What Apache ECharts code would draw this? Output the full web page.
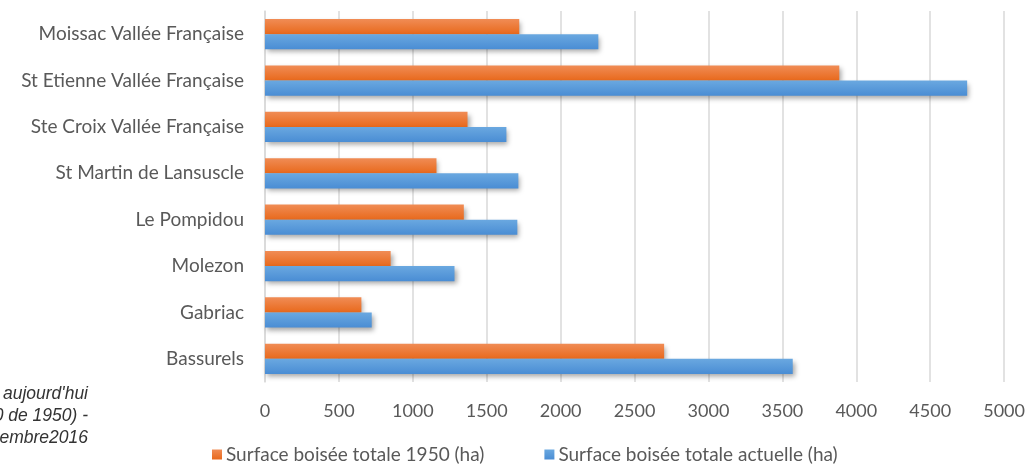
<!DOCTYPE html>
<html>
<head>
<meta charset="utf-8">
<script src="https://cdn.jsdelivr.net/npm/echarts@6/dist/echarts.min.js"></script>
<style>
html,body{margin:0;padding:0;background:#fff;}
#chart{width:1028px;height:465px;}
</style>
</head>
<body>
<div id="chart"></div>
<script>
const categories = ["Moissac Vallée Française","St Etienne Vallée Française","Ste Croix Vallée Française","St Martin de Lansuscle","Le Pompidou","Molezon","Gabriac","Bassurels"];
const surface1950 = [1720, 3885, 1370, 1160, 1345, 850, 652, 2700];
const surfaceActuelle = [2255, 4750, 1633, 1714, 1707, 1282, 722, 3570];
const seriesNames = ["Surface boisée totale 1950 (ha)", "Surface boisée totale actuelle (ha)"];
const sideNote = ["aujourd'hui", "0 de 1950) -", "embre2016"];

const FONT = "Lato, 'Open Sans', sans-serif";
const chart = echarts.init(document.getElementById('chart'), null, {renderer:'canvas'});
const grad = (a,b)=>new echarts.graphic.LinearGradient(0,0,0,1,[{offset:0,color:a},{offset:1,color:b}]);
chart.setOption({
  animation:false,
  backgroundColor:'#ffffff',
  grid:{left:265,right:22,top:11,bottom:83,containLabel:false},
  legend:{
    left:212, top:445, padding:[0,0,0,0], icon:'rect', itemWidth:10, itemHeight:10, itemGap:60,
    textStyle:{fontFamily:FONT,fontSize:19,color:'#595959',padding:[0,0,0,-1]},
    data:seriesNames
  },
  xAxis:{
    type:'value', min:0, max:5000, interval:500,
    axisLine:{show:false}, axisTick:{show:false},
    splitLine:{lineStyle:{color:'#d9d9d9',width:1.5}},
    axisLabel:{fontFamily:FONT,fontSize:18,color:'#595959',margin:20,formatter:v=>String(v)}
  },
  yAxis:{
    type:'category', data:categories, inverse:true,
    axisLine:{show:true,lineStyle:{color:'#d9d9d9',width:1.5}},
    axisTick:{show:false},
    axisLabel:{fontFamily:FONT,fontSize:19,color:'#595959',margin:21}
  },
  series:[
    {name:seriesNames[0],type:'bar',data:surface1950,barGap:'0%',barCategoryGap:'35%',
     itemStyle:{color:grad('#f08c55','#e8691c'),shadowBlur:5,shadowOffsetX:2,shadowOffsetY:3,shadowColor:'rgba(0,0,0,0.35)'}},
    {name:seriesNames[1],type:'bar',data:surfaceActuelle,barGap:'0%',barCategoryGap:'35%',
     itemStyle:{color:grad('#6aa8e0','#4a8dd4'),shadowBlur:5,shadowOffsetX:2,shadowOffsetY:3,shadowColor:'rgba(0,0,0,0.35)'}}
  ],
  graphic:[
    {type:'text',right:940,top:385,style:{text:sideNote[0],font:"italic 17.5px 'Liberation Sans', Arial, sans-serif",fill:'#333',align:'right'}},
    {type:'text',right:940,top:407,style:{text:sideNote[1],font:"italic 17.5px 'Liberation Sans', Arial, sans-serif",fill:'#333',align:'right'}},
    {type:'text',right:940,top:429,style:{text:sideNote[2],font:"italic 17.5px 'Liberation Sans', Arial, sans-serif",fill:'#333',align:'right'}}
  ]
});
</script>
</body>
</html>
